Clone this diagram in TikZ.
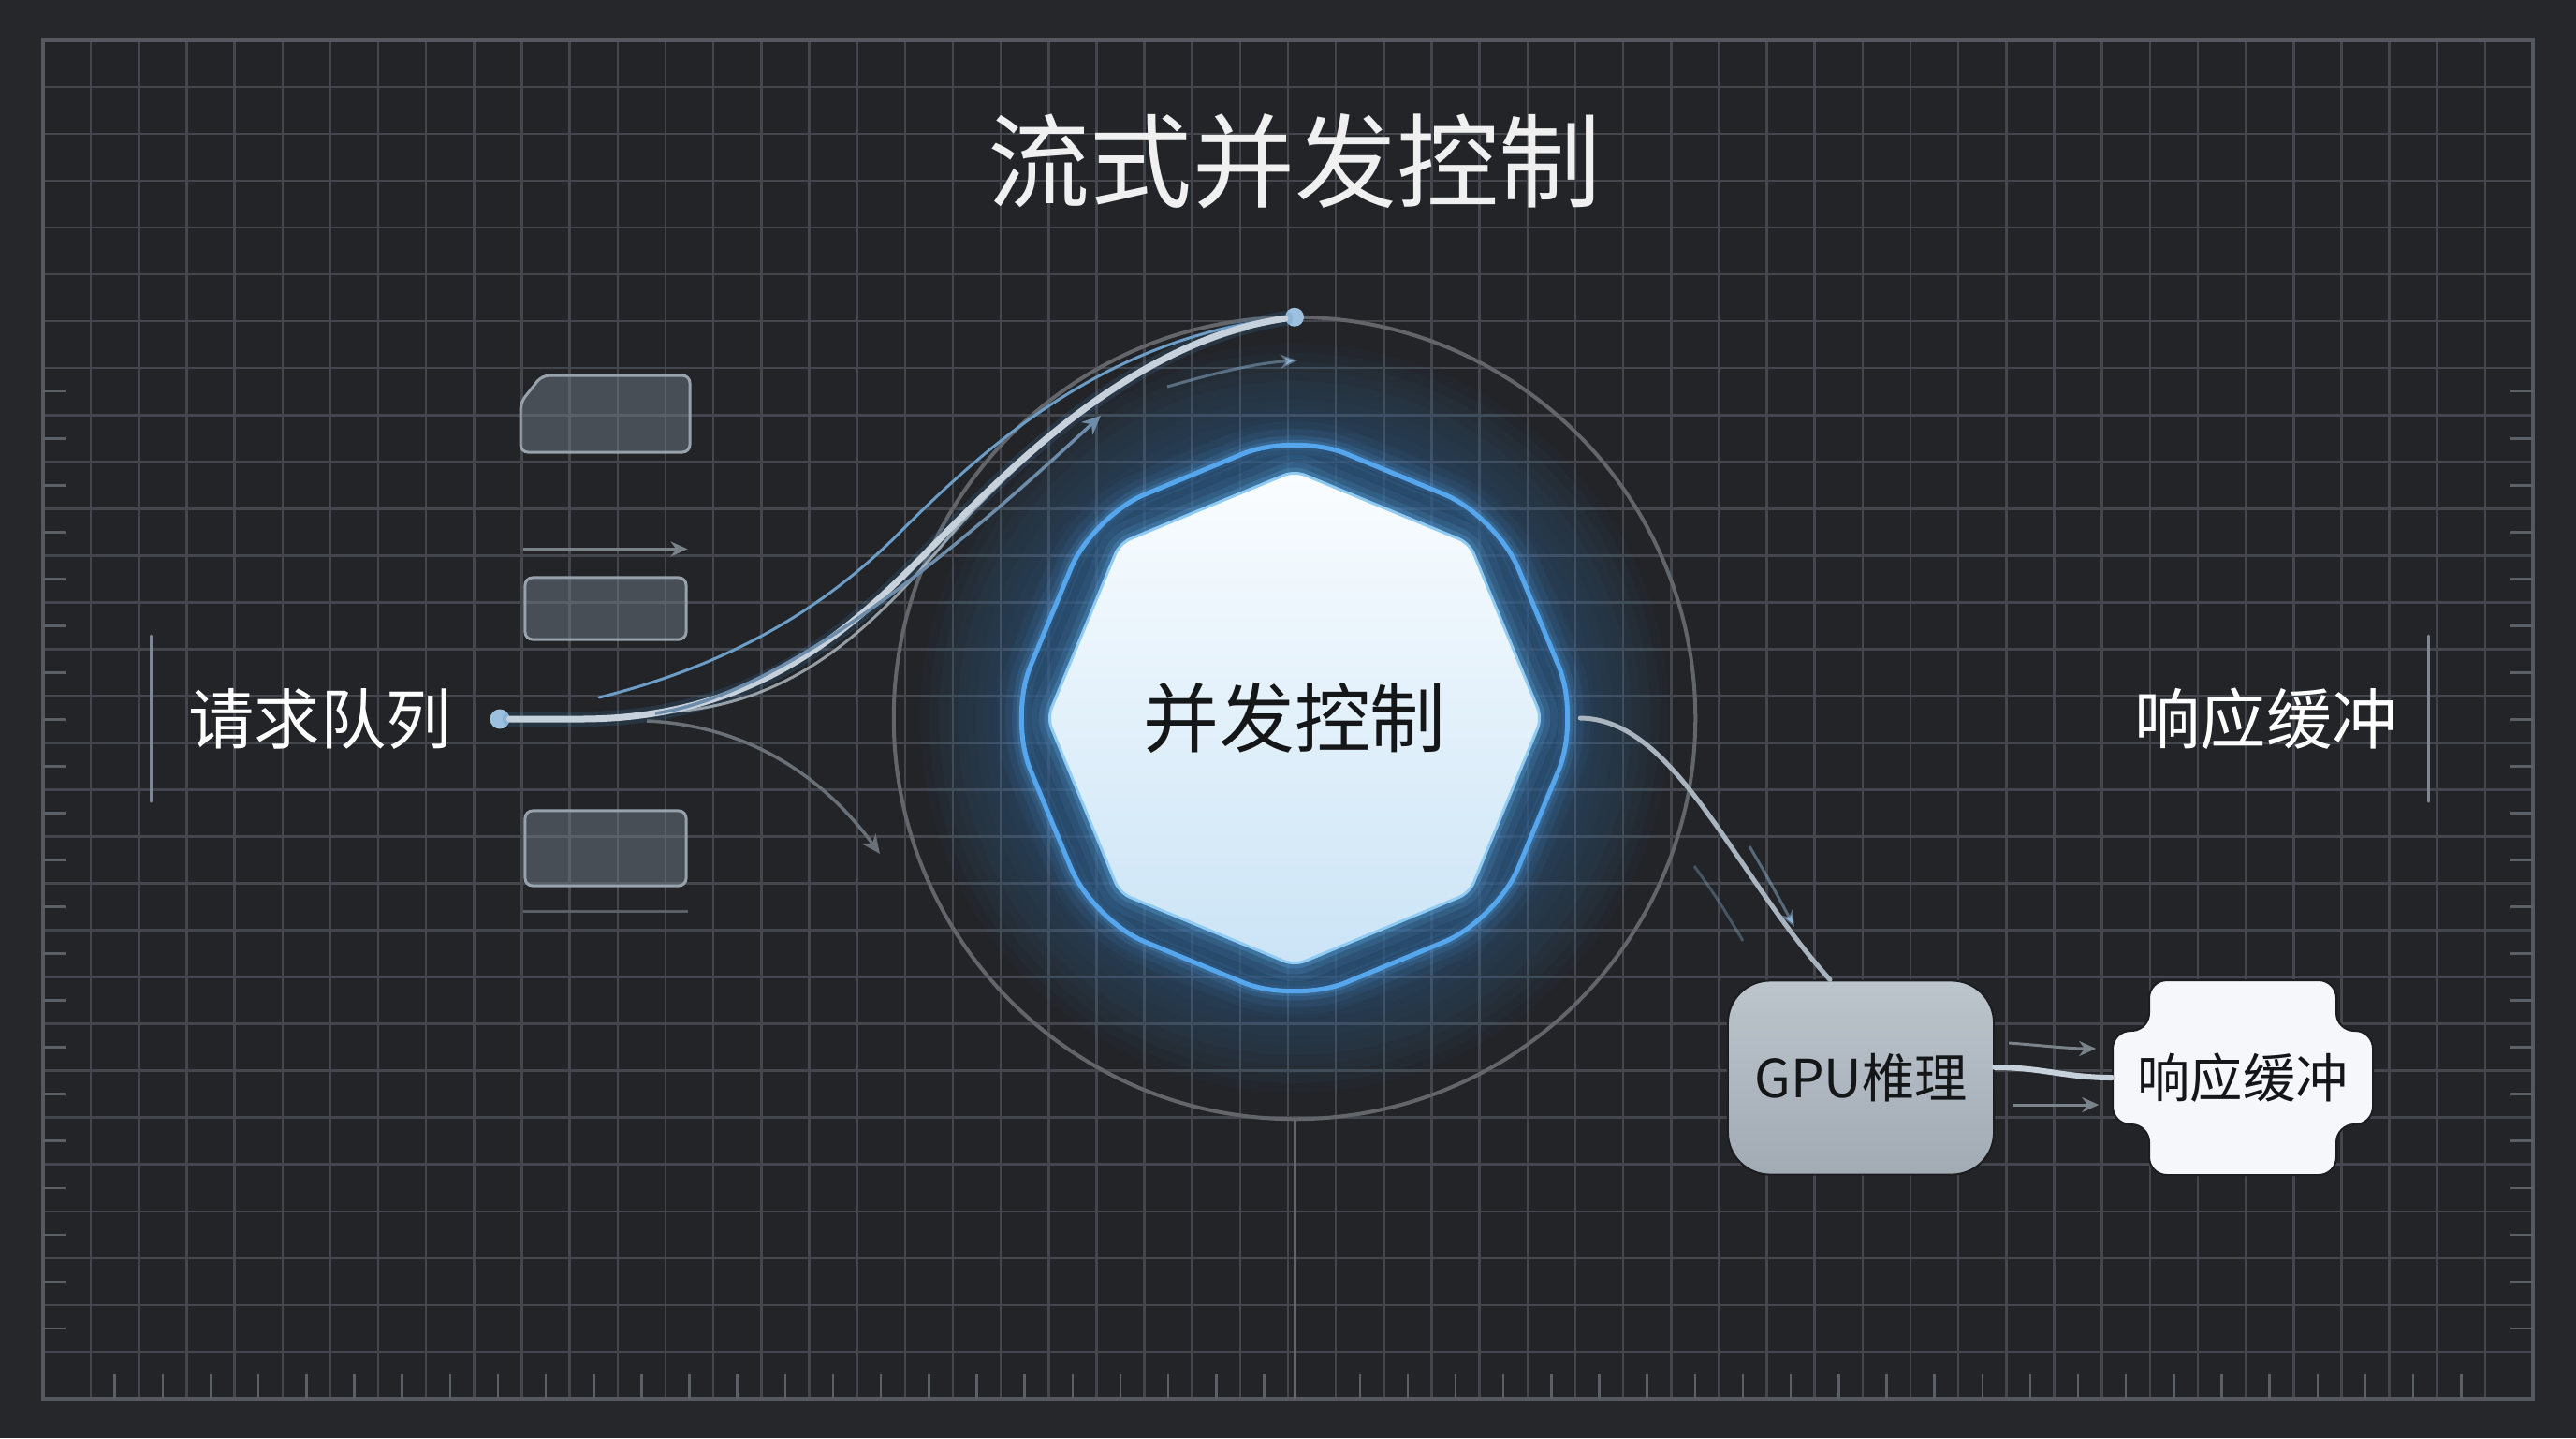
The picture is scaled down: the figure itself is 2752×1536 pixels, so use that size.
\documentclass[tikz,border=0pt]{standalone}
\usepackage{fontspec}
\setmainfont{Noto Sans CJK SC}
\usepackage{tikz}
\usetikzlibrary{positioning, calc, shapes.geometric, arrows.meta}

\definecolor{bgcol}{HTML}{25272B}
\definecolor{panelcol}{HTML}{222428}
\definecolor{gridcol}{HTML}{43474D}
\definecolor{framecol}{HTML}{55595F}
\definecolor{tickcol}{HTML}{5B6067}
\definecolor{titlecol}{HTML}{F0F0F0}
\definecolor{barcol}{HTML}{7C8893}
\definecolor{boxfill}{HTML}{6F7984}
\definecolor{boxedge}{HTML}{98A2AC}
\definecolor{dotblue}{HTML}{9CC0DD}
\definecolor{orbitcol}{HTML}{62666B}
\definecolor{glowblue}{HTML}{3F7DBA}
\definecolor{ringblue}{HTML}{55A6EC}
\definecolor{ringfill}{HTML}{1F3D5C}
\definecolor{coreglow}{HTML}{62B2F2}
\definecolor{coretop}{HTML}{FAFDFF}
\definecolor{corebot}{HTML}{CBE4F6}
\definecolor{coreedge}{HTML}{8FCBF3}
\definecolor{inkdark}{HTML}{151618}
\definecolor{flowlight}{HTML}{C6D1DB}
\definecolor{flowblue}{HTML}{6C9DC6}
\definecolor{flowsteel}{HTML}{6E8DAA}
\definecolor{flowgray}{HTML}{6A7077}
\definecolor{faintcol}{HTML}{8DB0D0}
\definecolor{outgray}{HTML}{AAB4BE}
\definecolor{gputop}{HTML}{BCC4CC}
\definecolor{gpubot}{HTML}{A2ABB4}
\definecolor{buffill}{HTML}{F5F7FA}
\definecolor{edgedark}{HTML}{1B1D20}
\definecolor{arrowgray}{HTML}{7A828A}

\begin{document}
\begin{tikzpicture}[x=0.01cm, y=-0.01cm,
    gridline/.style={draw=gridcol, line width=0.25mm},
    frameline/.style={draw=framecol, line width=0.35mm},
    tickline/.style={draw=tickcol, line width=0.25mm},
    titletext/.style={text=titlecol, font=\fontsize{31}{36}\selectfont, inner sep=0pt},
    sidelabel/.style={text=white, font=\fontsize{20}{24}\selectfont, inner sep=0pt},
    sidebar/.style={draw=barcol, line width=0.3mm, line cap=round},
    qbox/.style={fill=boxfill, fill opacity=0.5, draw=boxedge, line width=0.3mm, rounded corners=0.8mm},
    dotnode/.style={circle, fill=dotblue, inner sep=0pt, outer sep=0pt, minimum size=0.21cm},
    orbitline/.style={draw=orbitcol, line width=0.4mm},
    octo/.style={regular polygon, regular polygon sides=8, shape border rotate=22.5, inner sep=0pt, outer sep=0pt},
    ringnode/.style={octo, minimum size=6.1cm, rounded corners=6mm},
    corenode/.style={octo, minimum size=5.28cm, rounded corners=1.2mm},
    flowglow/.style={draw=glowblue, line width=1.6mm, draw opacity=0.18, line cap=round},
    flowmain/.style={draw=flowlight, line width=0.6mm, line cap=round},
    flowthin/.style={line width=0.3mm, line cap=round},
    fanarrow/.style={line width=0.35mm, -{Stealth[length=2mm, width=1.8mm]}},
    faintarrow/.style={draw=faintcol, draw opacity=0.5, line width=0.3mm, -{Stealth[length=1.8mm, width=1.5mm]}},
    gpubox/.style={rounded corners=4.5mm, minimum width=2.84cm, minimum height=2.07cm, top color=gputop, bottom color=gpubot, draw=edgedark, line width=0.2mm, text=inkdark, font=\fontsize{16}{20}\selectfont},
    bufshape/.style={fill=buffill, draw=edgedark, line width=0.2mm, rounded corners=1.9mm},
    buftext/.style={minimum width=2.78cm, minimum height=2.08cm, inner sep=0pt, text=inkdark, font=\fontsize{16}{20}\selectfont},
    gpuarrow/.style={draw=arrowgray, line width=0.3mm, -{Stealth[length=1.8mm, width=1.6mm]}}
  ]

  %// canvas and grid
  \fill[bgcol] (0,0) rectangle (2752,1536);
  \useasboundingbox (0,0) rectangle (2752,1536);
  \fill[panelcol] (46,43) rectangle (2706,1494);

  \foreach \i in {1,...,51}
    \draw[gridline] ({46+\i*51.154},43) -- ({46+\i*51.154},1494);
  \foreach \j in {1,...,28}
    \draw[gridline] (46,{43+\j*50.03}) -- (2706,{43+\j*50.03});
  \draw[frameline] (46,43) rectangle (2706,1494);

  \foreach \j in {7,...,27}
  {
    \draw[tickline] (46,{43+(\j+0.5)*50.03}) -- ++(24,0);
    \draw[tickline] (2706,{43+(\j+0.5)*50.03}) -- ++(-24,0);
  }
  \foreach \i in {1,...,50}
  {
    \ifnum\i=26 \else \draw[tickline] ({46+(\i+0.5)*51.154},1494) -- ++(0,-26); \fi
  }

  %// glow behind the controller
  \foreach \r in {400,390,...,290}
    \fill[glowblue, opacity=0.04] (1383,767) circle (\r);

  \node[circle, orbitline, minimum size=8.56cm, inner sep=0pt, outer sep=0pt] (orbit) at (1383,767) {};
  \draw[orbitline, line width=0.3mm] (orbit.south) -- (1383,1494);

  %// queue boxes
  \draw[qbox] (556,430) -- (579,401) -- (737,401) -- (737,483) -- (556,483) -- cycle;
  \node[qbox, minimum width=1.72cm, minimum height=0.66cm] (q2) at (647,650) {};
  \node[qbox, minimum width=1.72cm, minimum height=0.8cm] (q3) at (647,906) {};
  \draw[gpuarrow] ([yshift=2.9mm]q2.north west) -- ([yshift=2.9mm]q2.north east);
  \draw[tickline] ([yshift=-2.6mm]q3.south west) -- ([yshift=-2.6mm]q3.south east);

  %// labels
  \node[titletext] (title) at (1383,172) {流式并发控制};
  \node[sidelabel] (req) at (342,768) {请求队列};
  \node[sidelabel] (resp) at (2421,768) {响应缓冲};
  \draw[sidebar] (161,679) -- (161,856);
  \draw[sidebar] (2594,679) -- (2594,856);

  %// controller
  \foreach \w/\o in {5mm/0.05, 3.4mm/0.08, 2mm/0.12, 1.1mm/0.2}
    \node[ringnode, draw=ringblue, line width=\w, draw opacity=\o] at (1383,767) {};
  \node[ringnode, fill=ringfill, fill opacity=0.45, draw=ringblue, line width=0.5mm] (ring) at (1383,767) {};
  \foreach \w/\o in {6mm/0.06, 4mm/0.1, 2.4mm/0.15, 1.2mm/0.25}
    \node[corenode, draw=coreglow, line width=\w, draw opacity=\o] at (ring.center) {};
  \node[corenode, top color=coretop, bottom color=corebot, draw=coreedge, line width=0.3mm, text=inkdark, font=\fontsize{23}{27}\selectfont] (core) at (ring.center) {并发控制};

  %// request flows
  \node[dotnode] (src) at (534,768) {};
  \node[dotnode, minimum size=0.2cm] (top) at (orbit.north) {};
  \coordinate (fanA) at (640,745);
  \coordinate (fanB) at (700,762);
  \coordinate (fanC) at (691,770);
  \coordinate (fanD) at (720,760);
  \coordinate (fanDend) at (1330,352);
  \coordinate (tipB) at (1176,444);
  \coordinate (tipC) at (940,912);
  \coordinate (tipE) at (1386,385);

  \draw[flowglow] (src) -- (620,768) .. controls (800,768) and (900,680) .. (980,600) .. controls (1060,520) and (1200,365) .. (top);
  \draw[flowthin, draw=flowblue] (fanA) .. controls (780,710) and (880,650) .. (960,570) .. controls (1050,480) and (1180,360) .. (top);
  \draw[flowthin, draw=flowlight, draw opacity=0.7] (fanD) .. controls (850,750) and (930,670) .. (1000,590) .. controls (1070,505) and (1200,385) .. (fanDend);
  \draw[flowmain, line width=0.7mm] (src) -- (620,768) .. controls (800,768) and (900,680) .. (980,600) .. controls (1060,520) and (1200,365) .. (top);
  \draw[fanarrow, draw=flowsteel] (fanB) .. controls (850,740) and (1050,560) .. (tipB);
  \draw[fanarrow, draw=flowgray] (fanC) .. controls (800,775) and (880,830) .. (tipC);
  \draw[faintarrow] (1247,413) .. controls (1300,398) and (1340,388) .. (tipE);

  %// output side
  \node[gpubox] (gpu) at (1988,1151) {GPU椎理};
  \begin{scope}[shift={(2396,1151)}]
    \draw[bufshape] (-100,-104) -- (100,-104) -- (100,-50) -- (139,-50) -- (139,50) -- (100,50) -- (100,104) -- (-100,104) -- (-100,50) -- (-139,50) -- (-139,-50) -- (-100,-50) -- cycle;
  \end{scope}
  \node[buftext] (buf) at (2396,1151) {响应缓冲};

  \draw[flowmain, draw=outgray, line width=0.5mm] (ring.east) .. controls (1790,768) and (1850,930) .. ([xshift=-3.3mm]gpu.north);
  \draw[faintarrow] (1869,904) .. controls (1890,940) .. (1917,990);
  \draw[faintarrow, -, draw opacity=0.35] (1810,925) .. controls (1835,960) .. (1862,1005);

  \draw[flowmain, line width=0.6mm] ([yshift=1.1mm]gpu.east) .. controls +(50,0) and +(-50,0) .. (buf.west);
  \draw[gpuarrow] ([xshift=1.5mm, yshift=3.7mm]gpu.east) .. controls +(40,3) and +(-30,0) .. ([xshift=-1.7mm, yshift=3.1mm]buf.west);
  \draw[gpuarrow] ([xshift=2mm, yshift=-2.9mm]gpu.east) -- ([xshift=-1.4mm, yshift=-2.9mm]buf.west);

\end{tikzpicture}
\end{document}
